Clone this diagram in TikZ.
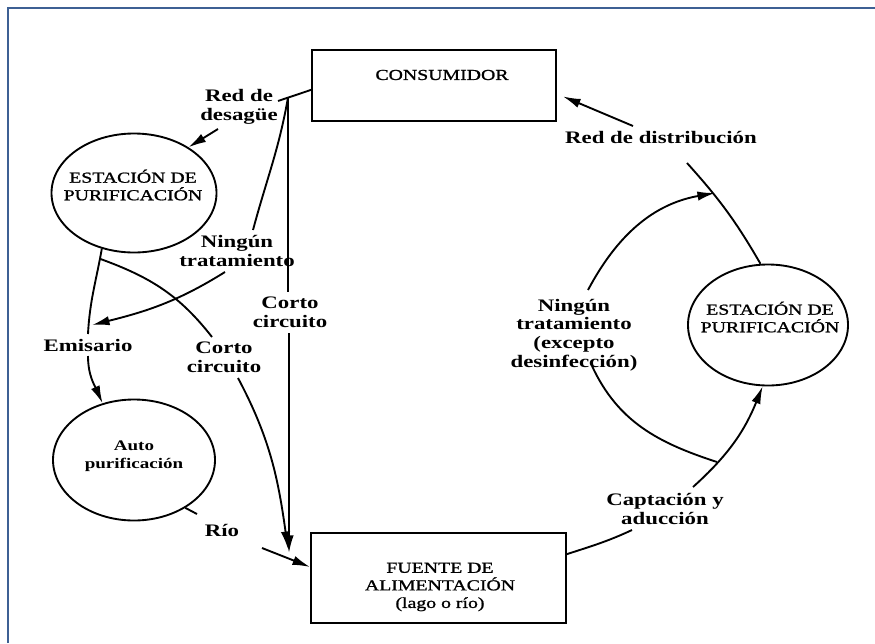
\documentclass[tikz,border=0pt]{standalone}
\usepackage{fontspec}
\setmainfont{Liberation Serif}[FakeStretch=1.3]
\newfontfamily\capfont{Liberation Serif}[FakeStretch=1.3,FakeBold=1.2]
\usetikzlibrary{arrows.meta,calc,shapes.geometric}
\definecolor{framecol}{RGB}{61,96,148}
\tikzset{
  ln/.style={line width=1.6pt},
  arr/.style={line width=1.6pt,-{Latex[length=15pt,width=8pt]}},
  boxst/.style={draw,line width=1.6pt,inner sep=0pt},
  ellst/.style={draw,ellipse,line width=1.6pt,inner sep=0pt},
  captxt/.style={align=center,font=\capfont\fontsize{13}{15}\selectfont,inner sep=0pt},
  autotxt/.style={align=center,font=\bfseries\fontsize{12.5}{15.3}\selectfont,inner sep=0pt},
  lbl/.style={align=center,font=\bfseries\fontsize{15}{16}\selectfont,inner sep=1pt},
  frame/.style={draw=framecol,line width=2pt}
}
\begin{document}
\begin{tikzpicture}[x=0.03cm,y=-0.03cm]
\useasboundingbox (0,0) rectangle (875,643);
\draw[frame] (8,643) -- (8,8) -- (875,8);

% main shapes
\node[boxst,minimum width=7.32cm,minimum height=2.13cm] (cons) at (434,85.5) {};
\node[captxt] (consT) at (442,75) {CONSUMIDOR};
\node[boxst,minimum width=7.65cm,minimum height=2.7cm] (fuente) at (438.5,578) {};
\node[captxt] (fuenteT) at (440,587) {FUENTE DE\\ALIMENTACIÓN\\(lago o río)};
\node[ellst,minimum width=4.95cm,minimum height=3.57cm] (estL) at (134,193) {};
\node[captxt] (estLT) at (133,185) {ESTACIÓN DE\\PURIFICACIÓN};
\node[ellst,minimum width=4.8cm,minimum height=3.63cm] (estR) at (768,325) {};
\node[captxt] (estRT) at (770,317) {ESTACIÓN DE\\PURIFICACIÓN};
\node[ellst,minimum width=4.86cm,minimum height=3.63cm] (auto) at (134,460) {};
\node[autotxt] (autoT) at (134,456) {Auto\\purificación};

% labels
\node[lbl] (lRed) at (239,107) {Red de\\desagüe};
\node[lbl] (lNin1) at (237,251) {Ningún\\tratamiento};
\node[lbl] (lCorto1) at (290,312) {Corto\\circuito};
\node[lbl] (lEmis) at (88,345) {Emisario};
\node[lbl] (lCorto2) at (224,357) {Corto\\circuito};
\node[lbl] (lRio) at (222,530) {Río};
\node[lbl] (lCapt) at (665,509) {Captación y\\aducción};
\node[lbl] (lNin2) at (574,335) {Ningún\\tratamiento\\(excepto\\desinfección)};
\node[lbl] (lRedD) at (661,137) {Red de distribución};

% junctions and free ends
\coordinate (jA) at (278,101);
\coordinate (jB) at (288,97.5);
\coordinate (rdS) at (218,129);
\coordinate (c1a) at (288,292);
\coordinate (c1b) at (289,333);
\coordinate (tipF) at (289,553);
\coordinate (n1a) at (253,230);
\coordinate (n1b) at (225,272);
\coordinate (emA) at (92,325);
\coordinate (emTop) at (88,334);
\coordinate (emBot) at (88,356);
\coordinate (jE) at (100.5,259);
\coordinate (c2a) at (212,337);
\coordinate (c2b) at (238,378);
\coordinate (tipF2) at (288,549);
\coordinate (rioA) at (197,514);
\coordinate (rioB) at (262,548);
\coordinate (capA) at (632,530);
\coordinate (capB) at (693,487);
\coordinate (jC) at (717,462);
\coordinate (n2a) at (592,366);
\coordinate (n2b) at (588,290);
\coordinate (jD) at (715,193);
\coordinate (rdd) at (687,163);
\coordinate (rdA) at (633,126);

% Red de desagüe
\draw[ln] ($(cons.north west)!0.56!(cons.south west)$) -- (jA);
\draw[arr] (rdS) -- (estL.40);
% Corto circuito (vertical)
\draw[ln] (jB) -- (c1a);
\draw[arr] (c1b) -- (tipF);
% Ningún tratamiento (left)
\draw[ln] (jB) to[out=-100,in=75] (n1a);
\draw[arr] (n1b) to[out=-148,in=14] (emA);
% Emisario
\draw[ln] (estL.240) to[out=-100,in=87] (emTop);
\draw[arr] (emBot) to[out=-90,in=114] (auto.119);
% Corto circuito (curved)
\draw[ln] (jE) to[out=-20,in=128] (c2a);
\draw[arr] (c2b) to[out=-62,in=98] (tipF2);
% Río
\draw[ln] (auto.-43) -- (rioA);
\draw[arr] (rioB) -- ($(fuente.north west)!0.38!(fuente.south west)$);
% Captación y aducción
\draw[ln] ($(fuente.north east)!0.24!(fuente.south east)$) to[out=18,in=-155] (capA);
\draw[arr] (capB) to[out=42,in=-112] (estR.265);
% Ningún tratamiento (excepto desinfección)
\draw[ln] (jC) to[out=162,in=-65] (n2a);
\draw[arr] (n2b) to[out=62,in=-170] (jD);
% Red de distribución
\draw[ln] (estR.97) to[out=120,in=-48] (rdd);
\draw[arr] (rdA) -- ($(cons.north east)!0.65!(cons.south east)+(6,0)$);
\end{tikzpicture}
\end{document}
